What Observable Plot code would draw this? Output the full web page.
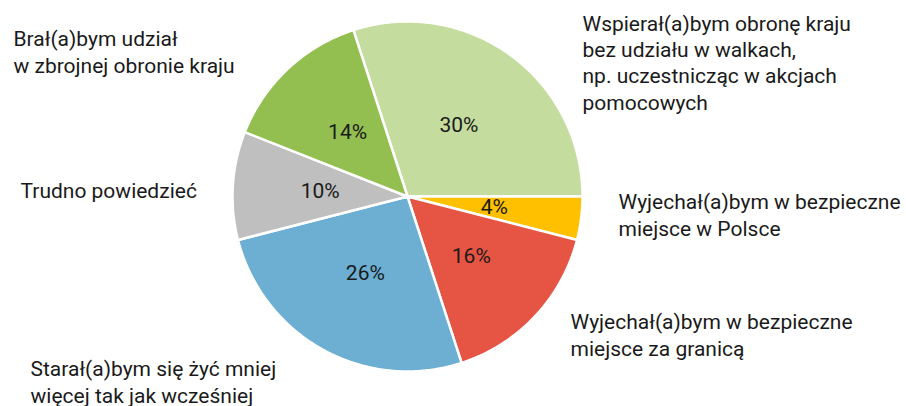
<!DOCTYPE html>
<html>
<head>
<meta charset="utf-8">
<script src="https://cdn.jsdelivr.net/npm/d3@7"></script>
<script src="https://cdn.jsdelivr.net/npm/@observablehq/plot@0.6"></script>
<style>
  html, body { margin: 0; padding: 0; background: #fff; }
  #chart { width: 906px; height: 406px; }
</style>
</head>
<body>
<div id="chart"></div>
<script>
// ---- data ----
const categories = [
  "Wspierał(a)bym obronę kraju\nbez udziału w walkach,\nnp. uczestnicząc w akcjach\npomocowych",
  "Wyjechał(a)bym w bezpieczne\nmiejsce w Polsce",
  "Wyjechał(a)bym w bezpieczne\nmiejsce za granicą",
  "Starał(a)bym się żyć mniej\nwięcej tak jak wcześniej",
  "Trudno powiedzieć",
  "Brał(a)bym udział\nw zbrojnej obronie kraju"
];
const values = [30, 4, 16, 26, 10, 14];
const valueLabels = ["30%", "4%", "16%", "26%", "10%", "14%"];
const colors = ["#c4dc9e", "#ffc000", "#e65444", "#6cafd3", "#bfbfbf", "#93be50"];

// ---- layout (pixels) ----
const W = 906, H = 406;
const cx = 407, cy = 196, R = 175;
const startAngle = -18 * Math.PI / 180;
// outside label anchors: [x, baseline of last line]
const labelPos = [
  [582, 109],
  [618, 235],
  [570, 355],
  [30, 402],
  [20, 197],
  [13, 72]
];

// ---- pie geometry in unit data space ----
const arcs = d3.pie().sort(null).startAngle(startAngle).endAngle(startAngle + 2 * Math.PI)(values);
const polys = [];
arcs.forEach((a, i) => {
  polys.push({k: i, x: 0, y: 0});
  const n = Math.max(4, Math.ceil((a.endAngle - a.startAngle) / 0.01));
  for (let j = 0; j <= n; j++) {
    const t = a.startAngle + (a.endAngle - a.startAngle) * j / n;
    polys.push({k: i, x: Math.sin(t), y: Math.cos(t)});
  }
  polys.push({k: i, x: 0, y: 0});
});
const centroids = arcs.map((a, i) => {
  const m = (a.startAngle + a.endAngle) / 2;
  return {label: valueLabels[i], x: 0.5 * Math.sin(m), y: 0.5 * Math.cos(m)};
});
const outside = categories.map((c, i) => ({text: c, px: labelPos[i][0], py: labelPos[i][1]}));

const chart = Plot.plot({
  width: W,
  height: H,
  margin: 0,
  style: {fontFamily: "Roboto, sans-serif", background: "#fff", overflow: "visible"},
  x: {domain: [-1, 1], range: [cx - R, cx + R], axis: null},
  y: {domain: [-1, 1], range: [cy + R, cy - R], axis: null},
  marks: [
    Plot.line(polys, {
      x: "x", y: "y", z: "k",
      fill: d => colors[d.k],
      stroke: "#fff", strokeWidth: 2.5, strokeLinejoin: "round",
      curve: "linear"
    }),
    Plot.text(centroids, {
      x: "x", y: "y", text: "label",
      fontSize: 21, fill: "#1a1a1a"
    }),
    ...outside.map(d => Plot.text([d], {
      frameAnchor: "top-left",
      dx: d.px, dy: d.py,
      text: "text",
      textAnchor: "start",
      lineAnchor: "bottom",
      lineHeight: 1.24,
      fontSize: 21,
      fill: "#1a1a1a"
    }))
  ]
});
document.getElementById("chart").appendChild(chart);
</script>
</body>
</html>
